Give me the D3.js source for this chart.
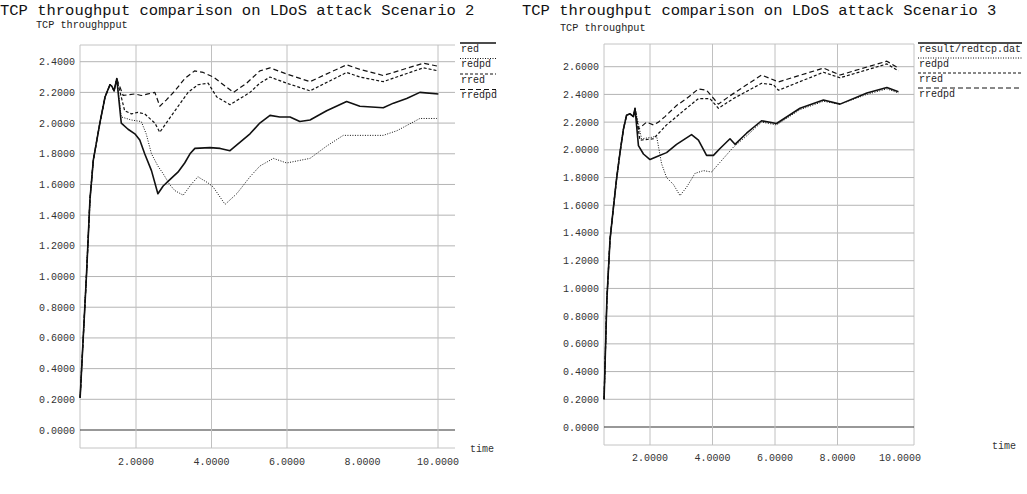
<!DOCTYPE html>
<html>
<head>
<meta charset="utf-8">
<script src="https://cdn.jsdelivr.net/npm/d3@7"></script>
<style>
body { margin: 0; background: #fff; }
text { font-family: "Liberation Mono", "DejaVu Sans Mono", monospace; }
</style>
</head>
<body>
<svg width="1027" height="494"></svg>
<script>
// ---- data (time, throughput) ----
const xTicks = [2, 4, 6, 8, 10];
const yTicks2 = [0, 0.2, 0.4, 0.6, 0.8, 1.0, 1.2, 1.4, 1.6, 1.8, 2.0, 2.2, 2.4];
const yTicks3 = [0, 0.2, 0.4, 0.6, 0.8, 1.0, 1.2, 1.4, 1.6, 1.8, 2.0, 2.2, 2.4, 2.6];

const names2 = ["red", "redpd", "rred", "rredpd"];
const names3 = ["result/redtcp.dat", "redpd", "rred", "rredpd"];

// scenario 2
const rise2 = [[0.52, 0.21], [0.69, 1.02], [0.78, 1.50], [0.87, 1.76], [1.05, 2.01], [1.18, 2.17],
  [1.31, 2.25], [1.36, 2.24], [1.42, 2.21], [1.49, 2.29]];
const red2 = [[1.61, 2.00], [1.79, 1.96], [1.97, 1.93], [2.10, 1.89], [2.23, 1.80], [2.41, 1.69],
  [2.58, 1.54], [2.72, 1.59], [2.89, 1.63], [3.11, 1.68], [3.29, 1.74], [3.43, 1.80], [3.56, 1.835],
  [3.96, 1.84], [4.23, 1.835], [4.49, 1.82], [5.02, 1.93], [5.28, 2.00], [5.55, 2.05], [5.81, 2.04],
  [6.08, 2.04], [6.34, 2.01], [6.61, 2.02], [7.05, 2.08], [7.58, 2.14], [7.93, 2.11], [8.55, 2.10],
  [8.82, 2.13], [9.17, 2.16], [9.52, 2.20], [10.01, 2.19]];
const redpd2 = [[1.61, 2.04], [1.88, 2.02], [2.14, 2.01], [2.27, 1.93], [2.41, 1.80], [2.58, 1.72],
  [2.72, 1.67], [2.89, 1.60], [3.03, 1.56], [3.25, 1.53], [3.46, 1.60], [3.64, 1.65], [3.91, 1.61],
  [4.04, 1.585], [4.36, 1.47], [4.67, 1.54], [5.02, 1.65], [5.28, 1.72], [5.64, 1.77], [5.99, 1.74],
  [6.61, 1.77], [7.05, 1.85], [7.49, 1.92], [8.02, 1.92], [8.55, 1.92], [8.91, 1.95], [9.52, 2.03],
  [9.97, 2.03]];
const rred2 = [[1.70, 2.08], [1.88, 2.06], [2.05, 2.07], [2.23, 2.06], [2.50, 2.00], [2.63, 1.94],
  [2.80, 2.00], [3.03, 2.08], [3.38, 2.20], [3.64, 2.25], [3.91, 2.26], [4.14, 2.17], [4.49, 2.12],
  [5.02, 2.20], [5.28, 2.26], [5.55, 2.30], [5.99, 2.26], [6.61, 2.21], [7.58, 2.33], [7.93, 2.30],
  [8.55, 2.27], [9.61, 2.36], [10.01, 2.34]];
const rredpd2 = [[1.66, 2.18], [1.97, 2.19], [2.14, 2.18], [2.32, 2.19], [2.50, 2.20], [2.63, 2.11],
  [2.80, 2.15], [3.03, 2.21], [3.29, 2.29], [3.55, 2.34], [3.78, 2.33], [4.05, 2.30], [4.58, 2.20],
  [4.93, 2.26], [5.28, 2.34], [5.55, 2.36], [5.99, 2.32], [6.61, 2.27], [7.58, 2.38], [7.93, 2.35],
  [8.55, 2.31], [9.61, 2.39], [10.01, 2.37]];

// scenario 3
const rise3 = [[0.53, 0.20], [0.62, 0.92], [0.72, 1.35], [0.83, 1.585], [0.93, 1.79], [1.04, 1.98],
  [1.15, 2.15], [1.25, 2.25], [1.36, 2.26], [1.47, 2.24], [1.52, 2.30]];
const red3 = [[1.63, 2.03], [1.79, 1.97], [2.00, 1.93], [2.21, 1.95], [2.53, 1.98], [2.85, 2.04],
  [3.33, 2.11], [3.55, 2.07], [3.81, 1.96], [4.03, 1.96], [4.24, 2.01], [4.56, 2.08], [4.72, 2.04],
  [5.09, 2.12], [5.57, 2.21], [6.05, 2.19], [6.80, 2.30], [7.55, 2.36], [8.08, 2.33], [8.94, 2.41],
  [9.58, 2.45], [9.95, 2.42]];
const redpd3 = [[1.73, 2.08], [2.05, 2.09], [2.21, 2.10], [2.37, 1.90], [2.53, 1.80], [2.75, 1.75],
  [2.96, 1.67], [3.17, 1.73], [3.44, 1.83], [3.71, 1.85], [3.97, 1.84], [4.24, 1.91], [4.67, 2.02],
  [5.09, 2.10], [5.57, 2.20], [6.05, 2.18], [6.80, 2.29], [7.55, 2.35], [8.08, 2.33], [8.94, 2.40],
  [9.58, 2.44], [9.95, 2.41]];
const rred3 = [[1.68, 2.07], [2.11, 2.08], [2.53, 2.18], [2.85, 2.24], [3.17, 2.30], [3.55, 2.37],
  [3.92, 2.37], [4.19, 2.30], [4.67, 2.37], [5.57, 2.48], [5.95, 2.47], [6.11, 2.43], [7.55, 2.56],
  [8.08, 2.52], [9.58, 2.62], [9.95, 2.57]];
const rredpd3 = [[1.63, 2.15], [1.89, 2.20], [2.11, 2.18], [2.27, 2.20], [2.48, 2.24], [2.85, 2.32],
  [3.17, 2.37], [3.55, 2.44], [3.81, 2.43], [4.19, 2.33], [4.56, 2.39], [5.57, 2.54], [6.11, 2.49],
  [7.55, 2.59], [8.08, 2.54], [9.58, 2.64], [9.95, 2.59]];

const styles = [
  { dash: null, width: 1.6 },
  { dash: "1,1.5", width: 1 },
  { dash: "3,2", width: 1.2 },
  { dash: "5,3", width: 1.2 }
];

const svg = d3.select("svg");
const fmt = d3.format(".4f");

function drawChart(o) {
  const g = svg.append("g");
  const x = d3.scaleLinear().domain([2, 10]).range(o.xRange);
  const y = d3.scaleLinear().domain([0, o.yTicks[o.yTicks.length - 1]]).range(o.yRange);

  // frame
  g.append("line").attr("x1", o.box.l).attr("x2", o.box.r).attr("y1", o.box.t).attr("y2", o.box.t)
    .attr("stroke", "#c4c4c4");
  g.append("line").attr("x1", o.box.l).attr("x2", o.box.r).attr("y1", o.box.b).attr("y2", o.box.b)
    .attr("stroke", "#c4c4c4");
  g.append("line").attr("x1", o.box.l).attr("x2", o.box.l).attr("y1", o.box.t).attr("y2", o.box.b)
    .attr("stroke", "#c4c4c4");
  if (o.rightEdge)
    g.append("line").attr("x1", o.box.r).attr("x2", o.box.r).attr("y1", o.box.t).attr("y2", o.box.b)
      .attr("stroke", "#c4c4c4");

  // horizontal grid + y labels
  g.selectAll(".hg").data(o.yTicks).enter().append("line")
    .attr("x1", o.box.l).attr("x2", o.box.r)
    .attr("y1", d => y(d)).attr("y2", d => y(d))
    .attr("stroke", d => d === 0 ? "#333" : "#b4b4b4")
    .attr("stroke-width", d => d === 0 ? 1.2 : 1);
  g.selectAll(".yl").data(o.yTicks).enter().append("text")
    .attr("x", o.box.l - 5).attr("y", d => y(d) + 3.5)
    .attr("text-anchor", "end").attr("font-size", 10).attr("fill", "#333")
    .text(d => fmt(d));

  // vertical grid + x labels
  g.selectAll(".vg").data(o.xGrid).enter().append("line")
    .attr("x1", d => x(d)).attr("x2", d => x(d))
    .attr("y1", o.box.t).attr("y2", o.box.b)
    .attr("stroke", "#c0c0c0");
  g.selectAll(".xl").data(xTicks).enter().append("text")
    .attr("x", d => x(d)).attr("y", o.xLabelY)
    .attr("text-anchor", "middle").attr("font-size", 10).attr("fill", "#333")
    .text(d => fmt(d));

  // titles
  g.append("text").attr("x", o.titleX).attr("y", 15).attr("font-size", 15.5).attr("fill", "#111")
    .text(o.title);
  g.append("text").attr("x", o.yTitle[0]).attr("y", o.yTitle[1]).attr("font-size", 10.2).attr("fill", "#222")
    .text(o.yTitle[2]);
  g.append("text").attr("x", o.timeLabel[0]).attr("y", o.timeLabel[1]).attr("font-size", 10).attr("fill", "#333")
    .text("time");

  // series
  const line = d3.line().x(d => x(d[0])).y(d => y(d[1]));
  o.series.forEach((s, i) => {
    g.append("path").datum(o.rise.concat(s))
      .attr("fill", "none").attr("stroke", "#111")
      .attr("stroke-width", styles[i].width)
      .attr("stroke-dasharray", styles[i].dash)
      .attr("stroke-linejoin", "round")
      .attr("d", line);
  });

  // legend
  const lg = g.append("g");
  o.names.forEach((n, i) => {
    const ly = o.legend.y + i * o.legend.step;
    lg.append("line").attr("x1", o.legend.x).attr("x2", o.legend.x + o.legend.w)
      .attr("y1", ly).attr("y2", ly)
      .attr("stroke", "#111").attr("stroke-width", i === 0 ? 1.4 : 1)
      .attr("stroke-dasharray", styles[i].dash);
    lg.append("text").attr("x", o.legend.x + 1).attr("y", ly + 8.5)
      .attr("font-size", 10).attr("fill", "#222").text(n);
  });
}

drawChart({
  title: "TCP throughput comparison on LDoS attack Scenario 2",
  titleX: 0,
  yTitle: [36, 28, "TCP throughpput"],
  timeLabel: [470, 452],
  xRange: [136, 438],
  yRange: [430, 61.7],
  box: { l: 80, r: 455, t: 45, b: 448 },
  rightEdge: false,
  xGrid: [2, 4, 6, 10],
  yTicks: yTicks2,
  xLabelY: 465,
  rise: rise2,
  series: [red2, redpd2, rred2, rredpd2],
  names: names2,
  legend: { x: 460, y: 43, step: 15.5, w: 36 }
});

drawChart({
  title: "TCP throughput comparison on LDoS attack Scenario 3",
  titleX: 522,
  yTitle: [560, 31, "TCP throughput"],
  timeLabel: [992, 449],
  xRange: [650, 900],
  yRange: [427, 66.7],
  box: { l: 604, r: 914, t: 44, b: 445 },
  rightEdge: true,
  xGrid: [2, 4, 6, 8],
  yTicks: yTicks3,
  xLabelY: 461,
  rise: rise3,
  series: [red3, redpd3, rred3, rredpd3],
  names: names3,
  legend: { x: 918, y: 43, step: 15, w: 104 }
});
</script>
</body>
</html>
